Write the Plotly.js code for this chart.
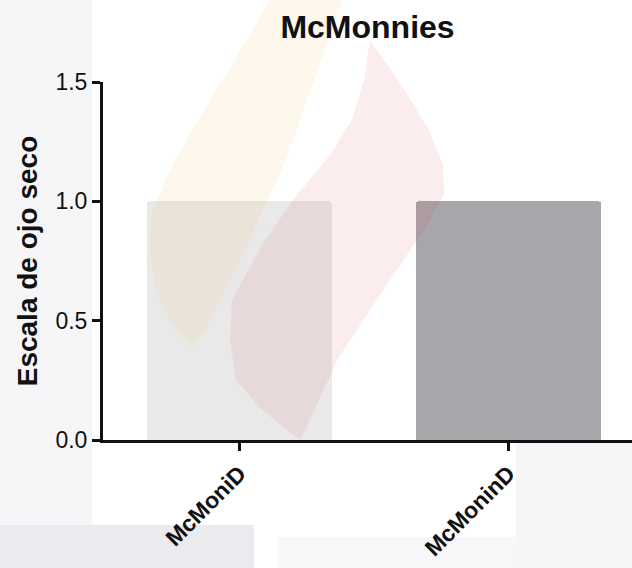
<!DOCTYPE html>
<html>
<head>
<meta charset="utf-8">
<script src="https://cdn.plot.ly/plotly-3.0.1.min.js"></script>
<style>
  html, body { margin: 0; padding: 0; background: #ffffff; }
  #chart { width: 632px; height: 568px; }
</style>
</head>
<body>
<div id="chart"></div>
<script>
// McMonnies dry-eye score by group
const categories = ['McMoniD', 'McMoninD'];
const scores = [1.0, 1.0];
const barColors = ['#e9e9e9', '#a7a6ab'];
const yTicks = [0, 0.5, 1.0, 1.5];
const yTickLabels = ['0.0', '0.5', '1.0', '1.5'];

// frame geometry (pixels)
const W = 632, H = 568;
const M = { l: 103, r: 0, t: 82, b: 128 };
const plotW = W - M.l - M.r, plotH = H - M.t - M.b;

// convert page pixels to paper fractions for the background artwork
function toPaper(pts) {
  return pts.map(([x, y]) => [(x - M.l) / plotW, (H - M.b - y) / plotH]);
}
function pathFrom(pts) {
  const p = toPaper(pts);
  return 'M' + p.map(q => q[0].toFixed(4) + ',' + q[1].toFixed(4)).join(' L') + ' Z';
}
function rectFrom(x0, y0, x1, y1, color, layer) {
  const a = toPaper([[x0, y0], [x1, y1]]);
  return { type: 'rect', xref: 'paper', yref: 'paper', x0: a[0][0], y0: a[0][1], x1: a[1][0], y1: a[1][1],
           fillcolor: color, line: { width: 0 }, layer: layer || 'below' };
}

// faint emblem behind the chart
const flameA = [[270, 0], [342, 0], [318, 70], [283, 167], [240, 260], [205, 330], [192, 345],
                [172, 325], [156, 290], [150, 250], [152, 212], [170, 170], [195, 125], [235, 60]];
const flameB = [[370, 40], [398, 80], [428, 128], [443, 165], [444, 195], [425, 228], [380, 295],
                [337, 360], [310, 420], [300, 440], [262, 410], [236, 380], [230, 340], [232, 300],
                [262, 245], [293, 200], [330, 155], [352, 120], [364, 80]];

const shapes = [
  rectFrom(0, 0, 92, 525, '#f6f6f8'),
  rectFrom(0, 525, 254, 568, '#eaeaef'),
  rectFrom(278, 537, 516, 568, '#f7f7f9'),
  rectFrom(516, 440, 632, 568, '#f6f6f8'),
  { type: 'path', xref: 'paper', yref: 'paper', path: pathFrom(flameA),
    fillcolor: '#f0b040', opacity: 0.1, line: { width: 0 }, layer: 'above' },
  { type: 'path', xref: 'paper', yref: 'paper', path: pathFrom(flameB),
    fillcolor: '#d84858', opacity: 0.1, line: { width: 0 }, layer: 'above' }
];

const trace = {
  type: 'bar',
  x: categories,
  y: scores,
  width: 0.688,
  marker: { color: barColors, line: { width: 0 }, cornerradius: 3 },
  hoverinfo: 'x+y'
};

const layout = {
  width: W,
  height: H,
  margin: M,
  paper_bgcolor: 'rgba(0,0,0,0)',
  plot_bgcolor: 'rgba(0,0,0,0)',
  showlegend: false,
  bargap: 0,
  font: { family: 'Liberation Sans, Arial, sans-serif', color: '#111111' },
  title: {
    text: '<b>McMonnies</b>',
    font: { size: 32, family: 'Liberation Sans, Arial, sans-serif', color: '#111111' },
    x: 0.5, xref: 'paper', xanchor: 'center',
    y: 1 - 27 / H, yref: 'container', yanchor: 'middle'
  },
  xaxis: {
    type: 'category',
    range: [-0.507, 1.459],
    showline: true, linecolor: '#111111', linewidth: 3,
    ticks: 'outside', ticklen: 8, tickwidth: 3, tickcolor: '#111111',
    tickangle: -45,
    tickfont: { size: 23, family: 'Liberation Sans, Arial, sans-serif', color: '#111111', weight: 'bold' },
    showgrid: false, zeroline: false, fixedrange: true
  },
  yaxis: {
    range: [0, 1.5],
    tickvals: yTicks,
    ticktext: yTickLabels,
    showline: true, linecolor: '#111111', linewidth: 3,
    ticks: 'outside', ticklen: 8, tickwidth: 3, tickcolor: '#111111',
    tickfont: { size: 23, family: 'Liberation Sans, Arial, sans-serif', color: '#111111' },
    title: {
      text: '<b>Escala de ojo seco</b>',
      font: { size: 28, family: 'Liberation Sans, Arial, sans-serif', color: '#111111' },
      standoff: 10
    },
    showgrid: false, zeroline: false, fixedrange: true
  },
  shapes: shapes
};

Plotly.newPlot('chart', [trace], layout, { displayModeBar: false, staticPlot: true });
</script>
</body>
</html>
